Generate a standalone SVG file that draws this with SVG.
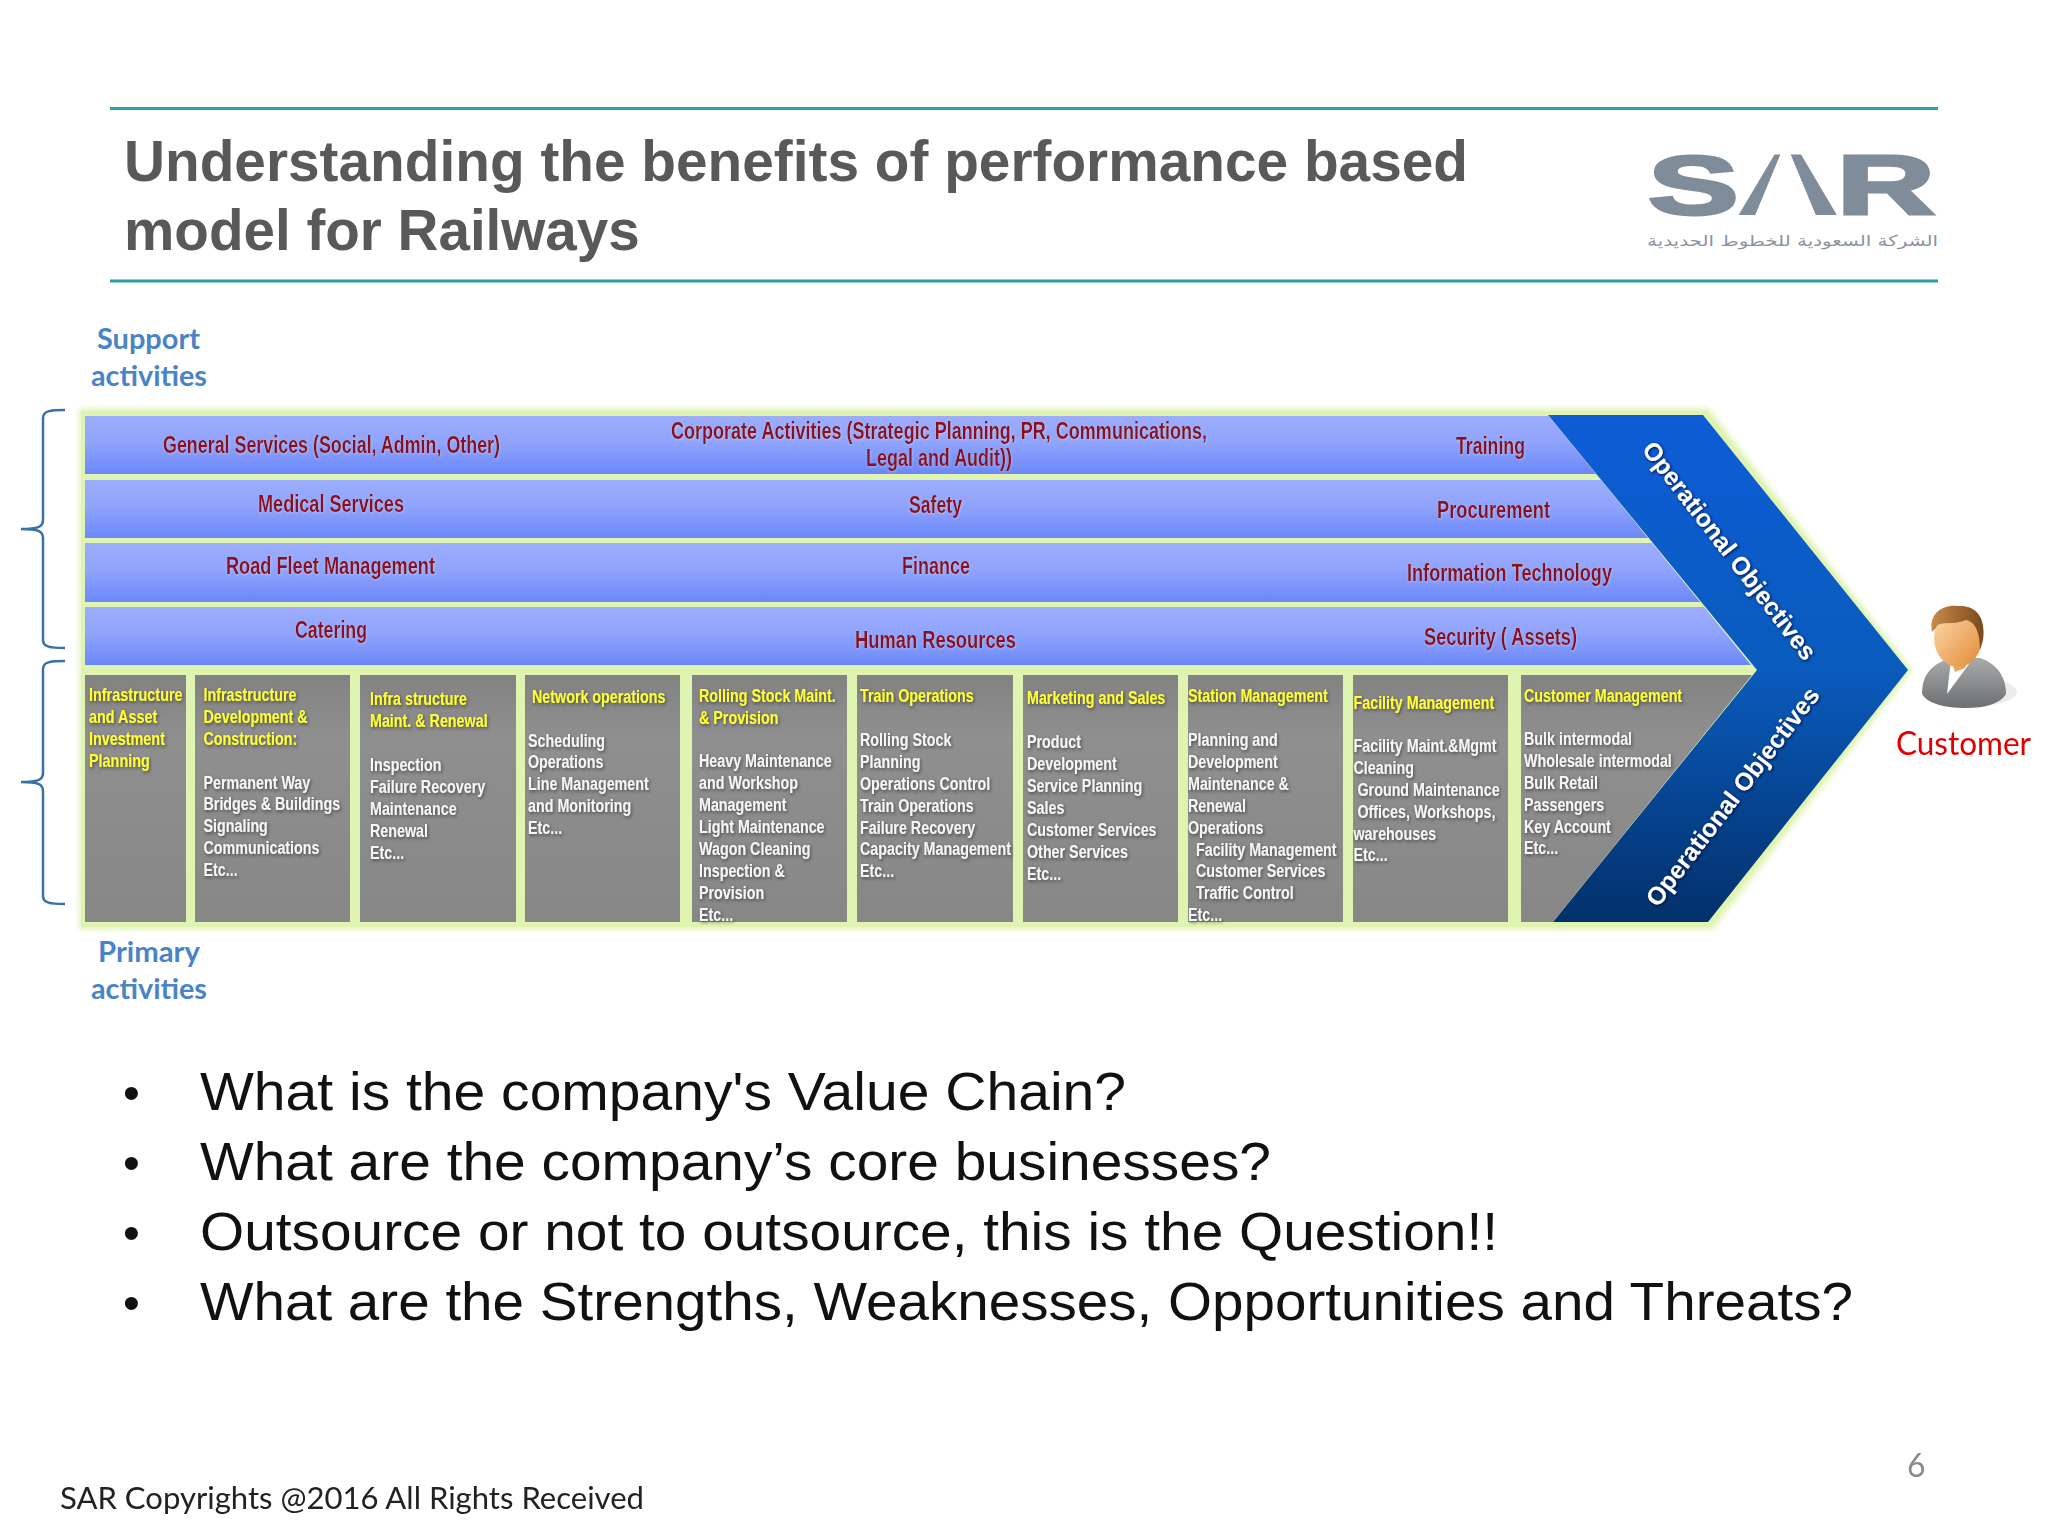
<svg xmlns="http://www.w3.org/2000/svg" width="2048" height="1536" viewBox="0 0 2048 1536">
<defs>
<linearGradient id="barG" x1="0" y1="0" x2="0" y2="1"><stop offset="0" stop-color="#9dadfd"/><stop offset="0.45" stop-color="#90a4fc"/><stop offset="1" stop-color="#6c88f8"/></linearGradient>
<linearGradient id="chevG" x1="0" y1="0" x2="0" y2="1"><stop offset="0" stop-color="#0e5cd6"/><stop offset="0.5" stop-color="#0a5bbd"/><stop offset="1" stop-color="#03306a"/></linearGradient>
<linearGradient id="grayG" x1="0" y1="0" x2="0" y2="1"><stop offset="0" stop-color="#828282"/><stop offset="0.25" stop-color="#8f8f8f"/><stop offset="1" stop-color="#878787"/></linearGradient>
<linearGradient id="faceG" x1="0" y1="0" x2="1" y2="1"><stop offset="0" stop-color="#ffdcb0"/><stop offset="1" stop-color="#e08a35"/></linearGradient>
<linearGradient id="hairG" x1="0" y1="0" x2="1" y2="0"><stop offset="0" stop-color="#c98a4a"/><stop offset="1" stop-color="#7a4a1c"/></linearGradient>
<linearGradient id="bodyG" x1="0" y1="0" x2="0" y2="1"><stop offset="0" stop-color="#a8aaac"/><stop offset="1" stop-color="#6d6f71"/></linearGradient>
<filter id="soft" x="-5%" y="-5%" width="110%" height="110%"><feGaussianBlur stdDeviation="2.500"/></filter>
<filter id="ts" x="-10%" y="-10%" width="120%" height="120%"><feDropShadow dx="1" dy="1.500" stdDeviation="1.600" flood-color="#222" flood-opacity="0.6"/></filter>
<filter id="tr" x="-10%" y="-20%" width="120%" height="140%"><feDropShadow dx="0.500" dy="1" stdDeviation="1" flood-color="#fff" flood-opacity="0.3"/></filter>
<filter id="to" x="-10%" y="-30%" width="120%" height="160%"><feDropShadow dx="1" dy="1" stdDeviation="1.500" flood-color="#001030" flood-opacity="0.9"/></filter>
</defs>
<style>
.rule{stroke:#2e9cb0;stroke-width:3;fill:none}
.title{font:bold 56.600px "Liberation Sans",Arial,sans-serif;fill:#595959}
.side{font:bold 29px Lato,"Open Sans",sans-serif;fill:#4a84c8}
.bar{fill:url(#barG)}
.cell{fill:url(#grayG)}
.lab{font:bold 23.500px "Liberation Sans",Arial,sans-serif;fill:#8a0a20}
.h{font:bold 18px "Liberation Sans",Arial,sans-serif;fill:#ffff33}
.w{font:bold 18px "Liberation Sans",Arial,sans-serif;fill:#f6f6f6}
.op{font:bold 25px "Liberation Sans",Arial,sans-serif;fill:#fff}
.bul{font:53px "Liberation Sans",Arial,sans-serif;fill:#111}
.dot{font:48px "Liberation Sans",Arial,sans-serif;fill:#111}
.brace{fill:none;stroke:#3a6fa8;stroke-width:2.500}
.foot{font:31px Lato,"Open Sans",sans-serif;fill:#222}
</style>
<rect width="2048" height="1536" fill="#fff"/>
<g id="header">
<line class="rule" x1="110" y1="108.500" x2="1938" y2="108.500"/>
<line class="rule" x1="110" y1="281" x2="1938" y2="281"/>
<text class="title" x="124" y="181" textLength="1344" lengthAdjust="spacingAndGlyphs">Understanding the benefits of performance based</text>
<text class="title" x="124" y="250">model for Railways</text>
</g>
<g id="logo">
<text x="1648" y="214" font-family="'Liberation Sans',Arial,sans-serif" font-weight="bold" font-size="84" fill="#7f8c99" stroke="#7f8c99" stroke-width="3" textLength="287" lengthAdjust="spacingAndGlyphs">SAR</text>
<polygon points="1783,148 1788,148 1817,218 1754,218" fill="#fff"/>
<text x="1938" y="246" direction="rtl" font-family="'DejaVu Sans',sans-serif" font-size="15" fill="#8a949e" textLength="291" lengthAdjust="spacingAndGlyphs">الشركة السعودية للخطوط الحديدية</text>
</g>
<g id="side-labels">
<text class="side" x="97" y="349" textLength="103" lengthAdjust="spacingAndGlyphs">Support</text>
<text class="side" x="91" y="386" textLength="116" lengthAdjust="spacingAndGlyphs">activities</text>
<text class="side" x="98" y="962" textLength="102" lengthAdjust="spacingAndGlyphs">Primary</text>
<text class="side" x="91" y="999" textLength="116" lengthAdjust="spacingAndGlyphs">activities</text>
</g>
<g id="connectors">
<path class="brace" d="M65,410 C50,410 43,411 43,418 L43,520 C43,527 38,529 21,529 C38,529 43,531 43,538 L43,640 C43,647 50,648 65,648"/>
<path class="brace" d="M65,661 C50,661 43,662 43,669 L43,773 C43,780 38,782 21,782 C38,782 43,784 43,791 L43,896 C43,903 50,904 65,904"/>
</g>
<g id="panel">
<polygon points="79,408 1709,408 1913,670 1713,930 79,930" fill="#e4f5c0" filter="url(#soft)"/>
<polygon points="81,411 1707,411 1909,670 1710,927 81,927" fill="#dff4b0"/>
</g>
<g id="chevron">
<polygon points="1548,415 1703,415 1908,670 1708,922 1553,922 1757,670" fill="url(#chevG)"/>
</g>
<g id="support-bars">
<polygon class="bar" points="85,416 1549,416 1596,474 85,474"/>
<polygon class="bar" points="85,480 1601,480 1648,538 85,538"/>
<polygon class="bar" points="85,543 1652,543 1700,602 85,602"/>
<polygon class="bar" points="85,607 1704,607 1751,665 85,665"/>
</g>
<g id="support-labels" filter="url(#tr)">
<text class="lab" x="163" y="453" textLength="337" lengthAdjust="spacingAndGlyphs">General Services (Social, Admin, Other)</text>
<text class="lab" x="671" y="439" textLength="536" lengthAdjust="spacingAndGlyphs">Corporate Activities (Strategic Planning, PR, Communications,</text>
<text class="lab" x="866" y="466" textLength="146" lengthAdjust="spacingAndGlyphs">Legal and Audit))</text>
<text class="lab" x="1456" y="454" textLength="69" lengthAdjust="spacingAndGlyphs">Training</text>
<text class="lab" x="258" y="512" textLength="146" lengthAdjust="spacingAndGlyphs">Medical Services</text>
<text class="lab" x="909" y="513" textLength="53" lengthAdjust="spacingAndGlyphs">Safety</text>
<text class="lab" x="1437" y="518" textLength="113" lengthAdjust="spacingAndGlyphs">Procurement</text>
<text class="lab" x="226" y="574" textLength="209" lengthAdjust="spacingAndGlyphs">Road Fleet Management</text>
<text class="lab" x="902" y="574" textLength="68" lengthAdjust="spacingAndGlyphs">Finance</text>
<text class="lab" x="1407" y="581" textLength="205" lengthAdjust="spacingAndGlyphs">Information Technology</text>
<text class="lab" x="295" y="638" textLength="72" lengthAdjust="spacingAndGlyphs">Catering</text>
<text class="lab" x="855" y="648" textLength="161" lengthAdjust="spacingAndGlyphs">Human Resources</text>
<text class="lab" x="1424" y="645" textLength="153" lengthAdjust="spacingAndGlyphs">Security ( Assets)</text>
</g>
<g id="primary-cells">
<rect class="cell" x="85" y="675" width="101" height="247"/>
<rect class="cell" x="195" y="675" width="155" height="247"/>
<rect class="cell" x="360" y="675" width="156" height="247"/>
<rect class="cell" x="525" y="675" width="155" height="247"/>
<rect class="cell" x="692" y="675" width="155" height="247"/>
<rect class="cell" x="857" y="675" width="156" height="247"/>
<rect class="cell" x="1023" y="675" width="155" height="247"/>
<rect class="cell" x="1188" y="675" width="155" height="247"/>
<rect class="cell" x="1353" y="675" width="155" height="247"/>
<polygon class="cell" points="1521,675 1752,675 1553,922 1521,922"/>
</g>
<g id="primary-text" filter="url(#ts)">
<g id="col1" transform="translate(89 0) scale(.8 1)">
<text class="h" y="701">Infrastructure</text><text class="h" y="723">and Asset</text><text class="h" y="745">Investment</text><text class="h" y="767">Planning</text>
</g>
<g id="col2" transform="translate(203.500 0) scale(.795 1)">
<text class="h" y="701">Infrastructure</text><text class="h" y="723">Development &amp;</text><text class="h" y="745">Construction:</text>
<text class="w" y="789">Permanent Way</text><text class="w" y="810">Bridges &amp; Buildings</text><text class="w" y="832">Signaling</text><text class="w" y="854">Communications</text><text class="w" y="876">Etc...</text>
</g>
<g id="col3" transform="translate(370 0) scale(.795 1)">
<text class="h" y="705">Infra structure</text><text class="h" y="727">Maint. &amp; Renewal</text>
<text class="w" y="771">Inspection</text><text class="w" y="793">Failure Recovery</text><text class="w" y="815">Maintenance</text><text class="w" y="837">Renewal</text><text class="w" y="859">Etc...</text>
</g>
<g id="col4" transform="translate(528 0) scale(.795 1)">
<text class="h" x="5" y="703">Network operations</text>
<text class="w" y="747">Scheduling</text><text class="w" y="768">Operations</text><text class="w" y="790">Line Management</text><text class="w" y="812">and Monitoring</text><text class="w" y="834">Etc...</text>
</g>
<g id="col5" transform="translate(699 0) scale(.795 1)">
<text class="h" y="702">Rolling Stock Maint.</text><text class="h" y="724">&amp; Provision</text>
<text class="w" y="767">Heavy Maintenance</text><text class="w" y="789">and Workshop</text><text class="w" y="811">Management</text><text class="w" y="833">Light Maintenance</text><text class="w" y="855">Wagon Cleaning</text><text class="w" y="877">Inspection &amp;</text><text class="w" y="899">Provision</text><text class="w" y="921">Etc...</text>
</g>
<g id="col6" transform="translate(860 0) scale(.795 1)">
<text class="h" y="702">Train Operations</text>
<text class="w" y="746">Rolling Stock</text><text class="w" y="768">Planning</text><text class="w" y="790">Operations Control</text><text class="w" y="812">Train Operations</text><text class="w" y="834">Failure Recovery</text><text class="w" y="855">Capacity Management</text><text class="w" y="877">Etc...</text>
</g>
<g id="col7" transform="translate(1027 0) scale(.795 1)">
<text class="h" y="704">Marketing and Sales</text>
<text class="w" y="748">Product</text><text class="w" y="770">Development</text><text class="w" y="792">Service Planning</text><text class="w" y="814">Sales</text><text class="w" y="836">Customer Services</text><text class="w" y="858">Other Services</text><text class="w" y="880">Etc...</text>
</g>
<g id="col8" transform="translate(1188 0) scale(.795 1)">
<text class="h" y="702">Station Management</text>
<text class="w" y="746">Planning and</text><text class="w" y="768">Development</text><text class="w" y="790">Maintenance &amp;</text><text class="w" y="812">Renewal</text><text class="w" y="834">Operations</text><text class="w" x="10" y="856">Facility Management</text><text class="w" x="10" y="877">Customer Services</text><text class="w" x="10" y="899">Traffic Control</text><text class="w" y="921">Etc...</text>
</g>
<g id="col9" transform="translate(1353.500 0) scale(.795 1)">
<text class="h" y="709">Facility Management</text>
<text class="w" y="752">Facility Maint.&amp;Mgmt</text><text class="w" y="774">Cleaning</text><text class="w" x="5" y="796">Ground Maintenance</text><text class="w" x="5" y="818">Offices, Workshops,</text><text class="w" y="840">warehouses</text><text class="w" y="861">Etc...</text>
</g>
<g id="col10" transform="translate(1524 0) scale(.795 1)">
<text class="h" y="702">Customer Management</text>
<text class="w" y="745">Bulk intermodal</text><text class="w" y="767">Wholesale intermodal</text><text class="w" y="789">Bulk Retail</text><text class="w" y="811">Passengers</text><text class="w" y="833">Key Account</text><text class="w" y="854">Etc...</text>
</g>
</g>
<g id="objectives" filter="url(#to)">
<text class="op" transform="translate(1729 551) rotate(52.400)" x="-134" y="8" textLength="268" lengthAdjust="spacingAndGlyphs">Operational Objectives</text>
<text class="op" transform="translate(1733 797) rotate(-52.600)" x="-134" y="8" textLength="268" lengthAdjust="spacingAndGlyphs">Operational Objectives</text>
</g>
<g id="customer">
<ellipse cx="1975" cy="692" rx="42" ry="14" fill="#ececec"/>
<path d="M1922,694 C1922,672 1934,664 1950,658 L1980,658 C1998,664 2006,678 2006,694 C2000,704 1985,708 1966,708 C1945,708 1928,704 1922,694Z" fill="url(#bodyG)"/>
<path d="M1947,694 L1951,660 L1972,660 Z" fill="#fff"/>
<path d="M1950,655 L1970,655 L1965,668 L1955,672 Z" fill="#eda35e"/>
<ellipse cx="1958" cy="638" rx="24" ry="29" fill="url(#faceG)"/>
<path d="M1932,632 C1928,612 1945,604 1958,606 C1977,605 1986,618 1983,640 L1980,650 C1980,634 1976,622 1966,620 C1952,626 1938,620 1936,628 Z" fill="url(#hairG)"/>
</g>
<text id="customer-label" x="1896" y="755" font-family="Lato,'Open Sans',sans-serif" font-size="32" fill="#e00000" textLength="135" lengthAdjust="spacingAndGlyphs">Customer</text>
<g id="bullets">
<text class="dot" x="123" y="1109">•</text><text class="bul" x="200" y="1110" textLength="926" lengthAdjust="spacingAndGlyphs">What is the company's Value Chain?</text>
<text class="dot" x="123" y="1179">•</text><text class="bul" x="200" y="1180" textLength="1071" lengthAdjust="spacingAndGlyphs">What are the company’s core businesses?</text>
<text class="dot" x="123" y="1249">•</text><text class="bul" x="200" y="1250" textLength="1298" lengthAdjust="spacingAndGlyphs">Outsource or not to outsource, this is the Question!!</text>
<text class="dot" x="123" y="1319">•</text><text class="bul" x="200" y="1320" textLength="1653" lengthAdjust="spacingAndGlyphs">What are the Strengths, Weaknesses, Opportunities and Threats?</text>
</g>
<text class="foot" x="60" y="1509" textLength="584" lengthAdjust="spacingAndGlyphs">SAR Copyrights @2016 All Rights Received</text>
<text x="1907" y="1477" font-family="Lato,'Open Sans',sans-serif" font-size="32" fill="#8a8a8a">6</text>
</svg>
